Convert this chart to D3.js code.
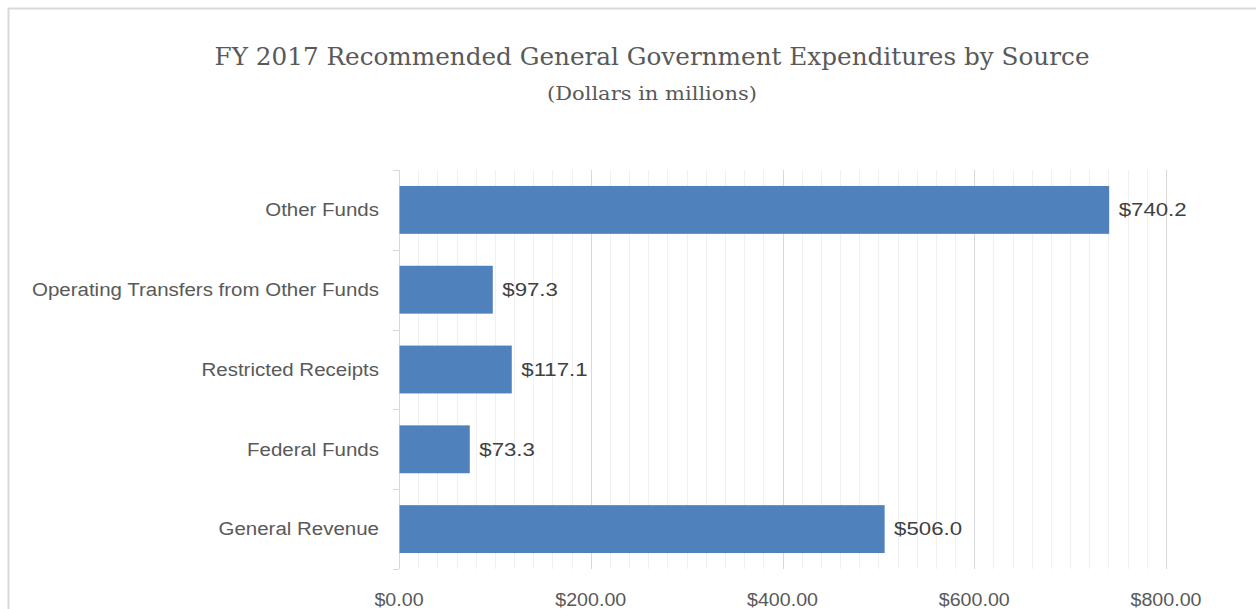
<!DOCTYPE html>
<html>
<head>
<meta charset="utf-8">
<script src="https://cdn.jsdelivr.net/npm/d3@7"></script>
<style>
  html, body { margin: 0; padding: 0; background: #fff; }
  svg { display: block; }
</style>
</head>
<body>
<svg id="chart" width="1256" height="609"></svg>
<script>
const categories = ["Other Funds", "Operating Transfers from Other Funds", "Restricted Receipts", "Federal Funds", "General Revenue"];
const values = [740.2, 97.3, 117.1, 73.3, 506.0];
const xTicks = [0, 200, 400, 600, 800];
const title = "FY 2017 Recommended General Government Expenditures by Source";
const subtitle = "(Dollars in millions)";

const svg = d3.select("#chart");
const textColor = "#595959";
const barColor = "#4F81BD";

// stretch texts so that a sample text gets a target width (approximating Calibri/Cambria metrics)
function fit(sel, ratio) {
  sel.each(function() {
    const w = this.getComputedTextLength();
    d3.select(this).attr("textLength", w * ratio).attr("lengthAdjust", "spacingAndGlyphs");
  });
}

// outer border
svg.append("rect").attr("x", 8.5).attr("y", 8.5).attr("width", 1300).attr("height", 700)
  .attr("fill", "#fff").attr("stroke", "#d9d9d9").attr("stroke-width", 2);

const m = { left: 399, right: 1166, top: 170, bottom: 569 };
const x = d3.scaleLinear().domain([0, 800]).range([m.left, m.right]);
const y = d3.scaleBand().domain(categories).range([m.top, m.bottom]).paddingInner(0.4).paddingOuter(0.2);

// gridlines
const grid = svg.append("g");
grid.selectAll("line").data(d3.range(0, 801, 20)).join("line")
  .attr("x1", d => Math.round(x(d)) + 0.5).attr("x2", d => Math.round(x(d)) + 0.5)
  .attr("y1", m.top).attr("y2", m.bottom)
  .attr("stroke", d => d % 200 === 0 ? "#d9d9d9" : "#f0f0f0").attr("stroke-width", 1);

// left axis line with ticks
const yAxisG = svg.append("g");
yAxisG.append("line").attr("x1", m.left + 0.5).attr("x2", m.left + 0.5).attr("y1", m.top).attr("y2", m.bottom)
  .attr("stroke", "#d9d9d9");
yAxisG.selectAll("line.tk").data(d3.range(categories.length + 1)).join("line")
  .attr("x1", m.left - 6).attr("x2", m.left)
  .attr("y1", i => Math.round(m.top + i * (m.bottom - m.top) / categories.length) + 0.5)
  .attr("y2", i => Math.round(m.top + i * (m.bottom - m.top) / categories.length) + 0.5)
  .attr("stroke", "#d9d9d9");

// bars
svg.append("g").selectAll("rect").data(categories).join("rect")
  .attr("x", m.left + 0.5)
  .attr("y", d => y(d))
  .attr("width", (d, i) => x(values[i]) - x(0))
  .attr("height", y.bandwidth())
  .attr("fill", barColor);

// value labels
const valLabels = svg.append("g").selectAll("text").data(categories).join("text")
  .attr("x", (d, i) => x(values[i]) + 10)
  .attr("y", d => y(d) + y.bandwidth() / 2)
  .attr("dy", "0.35em")
  .attr("font-family", "Liberation Sans, Arial, sans-serif")
  .attr("font-size", 18)
  .attr("fill", "#404040")
  .text((d, i) => "$" + values[i].toFixed(1));
{
  const w0 = valLabels.nodes()[0].getComputedTextLength();
  fit(valLabels, 68 / w0);
}

// category labels
const catLabels = svg.append("g").selectAll("text").data(categories).join("text")
  .attr("x", m.left - 20)
  .attr("y", d => y(d) + y.bandwidth() / 2)
  .attr("dy", "0.35em")
  .attr("text-anchor", "end")
  .attr("font-family", "Liberation Sans, Arial, sans-serif")
  .attr("font-size", 18)
  .attr("fill", textColor)
  .text(d => d);
{
  const w1 = catLabels.nodes()[1].getComputedTextLength();
  fit(catLabels, 347 / w1);
}

// x tick labels
const tickLabels = svg.append("g").selectAll("text").data(xTicks).join("text")
  .attr("x", d => x(d))
  .attr("y", 606)
  .attr("text-anchor", "middle")
  .attr("font-family", "Liberation Sans, Arial, sans-serif")
  .attr("font-size", 18)
  .attr("fill", textColor)
  .text(d => "$" + d3.format(",.2f")(d));
{
  const w4 = tickLabels.nodes()[4].getComputedTextLength();
  fit(tickLabels, 71 / w4);
}

// titles
const t1 = svg.append("text").attr("x", 652).attr("y", 65).attr("text-anchor", "middle")
  .attr("font-family", "DejaVu Serif, serif").attr("font-size", 25).attr("fill", textColor)
  .text(title);
fit(t1, 875 / t1.node().getComputedTextLength());
const t2 = svg.append("text").attr("x", 652).attr("y", 100).attr("text-anchor", "middle")
  .attr("font-family", "DejaVu Serif, serif").attr("font-size", 19).attr("fill", textColor)
  .text(subtitle);
fit(t2, 210 / t2.node().getComputedTextLength());
</script>
</body>
</html>
